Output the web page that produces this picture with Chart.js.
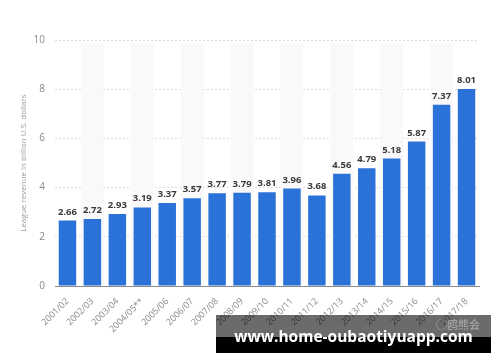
<!DOCTYPE html>
<html>
<head>
<meta charset="utf-8">
<script src="https://cdn.jsdelivr.net/npm/chart.js@4.4.0/dist/chart.umd.min.js"></script>
<style>
    html, body { margin: 0; padding: 0; background: #fff; }
    #wrap { position: relative; width: 500px; height: 362px; }
    #revenueChart { position: absolute; left: 0; top: 0; }
    .band-gray {
        position: absolute; left: 216px; top: 315px; width: 275px; height: 22px;
        background: rgba(0, 0, 0, 0.58);
    }
    .band-black {
        position: absolute; left: 216px; top: 337px; width: 275px; height: 16px;
        background: #000;
    }
    .site {
        position: absolute; left: 216px; top: 325px; width: 275px; text-align: center;
        font: bold 15.5px "Open Sans", sans-serif; color: #fff; white-space: nowrap;
    }
    .mark {
        position: absolute; left: 436px; top: 316px;
        font: 11px "Noto Sans CJK SC", sans-serif; color: rgba(255,255,255,0.45);
    }
</style>
</head>
<body>
<div id="wrap">
    <canvas id="revenueChart" width="500" height="362"></canvas>
    <div class="band-gray"></div>
    <div class="band-black"></div>
    <div class="site">www.home-oubaotiyuapp.com</div>
    <div class="mark">◯鸥熊会</div>
</div>
<script>
const seasons = ['2001/02', '2002/03', '2003/04', '2004/05**', '2005/06', '2006/07', '2007/08', '2008/09',
    '2009/10', '2010/11', '2011/12', '2012/13', '2013/14', '2014/15', '2015/16', '2016/17', '2017/18'];
const revenue = [2.66, 2.72, 2.93, 3.19, 3.37, 3.57, 3.77, 3.79, 3.81, 3.96, 3.68, 4.56, 4.79, 5.18, 5.87, 7.37, 8.01];
const yTicks = [0, 2, 4, 6, 8, 10];

// light stripes behind every other season
const stripes = {
    id: 'stripes',
    beforeDatasetsDraw(chart) {
        const { ctx, chartArea, scales } = chart;
        const step = scales.x.getPixelForValue(1) - scales.x.getPixelForValue(0);
        ctx.save();
        ctx.fillStyle = '#f9f9f9';
        for (let i = 1; i < seasons.length; i += 2) {
            const cx = scales.x.getPixelForValue(i);
            ctx.fillRect(cx - step / 2 + 1, chartArea.top + 3, step - 2, chartArea.bottom - chartArea.top - 3);
        }
        ctx.restore();
    }
};

// value labels above bars
const valueLabels = {
    id: 'valueLabels',
    afterDatasetsDraw(chart) {
        const { ctx } = chart;
        const meta = chart.getDatasetMeta(0);
        ctx.save();
        ctx.font = 'bold 9.5px "Open Sans", sans-serif';
        ctx.fillStyle = '#3a3a3a';
        ctx.textAlign = 'center';
        ctx.textBaseline = 'bottom';
        meta.data.forEach((bar, i) => {
            ctx.fillText(revenue[i].toFixed(2), bar.x, bar.y - 4);
        });
        ctx.restore();
    }
};

const ctx = document.getElementById('revenueChart');
new Chart(ctx.getContext('2d'), {
    type: 'bar',
    data: {
        labels: seasons,
        datasets: [{
            data: revenue,
            backgroundColor: '#2a72d8',
            barPercentage: 0.7,
            categoryPercentage: 1.0
        }]
    },
    options: {
        responsive: false,
        animation: false,
        layout: { padding: { top: 40, right: 21, left: 19, bottom: 0 } },
        plugins: {
            legend: { display: false },
            tooltip: { enabled: false }
        },
        scales: {
            x: {
                grid: { display: false },
                border: { color: '#8a8a8a', width: 1 },
                ticks: {
                    color: '#8a8a8a',
                    font: { size: 9, family: '"Open Sans", sans-serif' },
                    minRotation: 45,
                    maxRotation: 45,
                    autoSkip: false,
                    padding: 2
                },
                afterFit(scale) { scale.height = 76; }
            },
            y: {
                min: 0,
                max: 10,
                afterBuildTicks(scale) { scale.ticks = yTicks.map(v => ({ value: v })); },
                grid: {
                    color: '#dcdcdc',
                    drawTicks: false
                },
                border: { display: false, dash: [2, 2] },
                ticks: {
                    color: '#8a8a8a',
                    font: { size: 10, family: '"Open Sans", sans-serif' },
                    padding: 10
                },
                title: {
                    display: true,
                    text: 'League revenue in billion U.S. dollars',
                    color: '#999',
                    font: { size: 8, family: '"Open Sans", sans-serif' },
                    padding: 0
                },
                afterFit(scale) { scale.width = 36; }
            }
        }
    },
    plugins: [stripes, valueLabels]
});
</script>
</body>
</html>
